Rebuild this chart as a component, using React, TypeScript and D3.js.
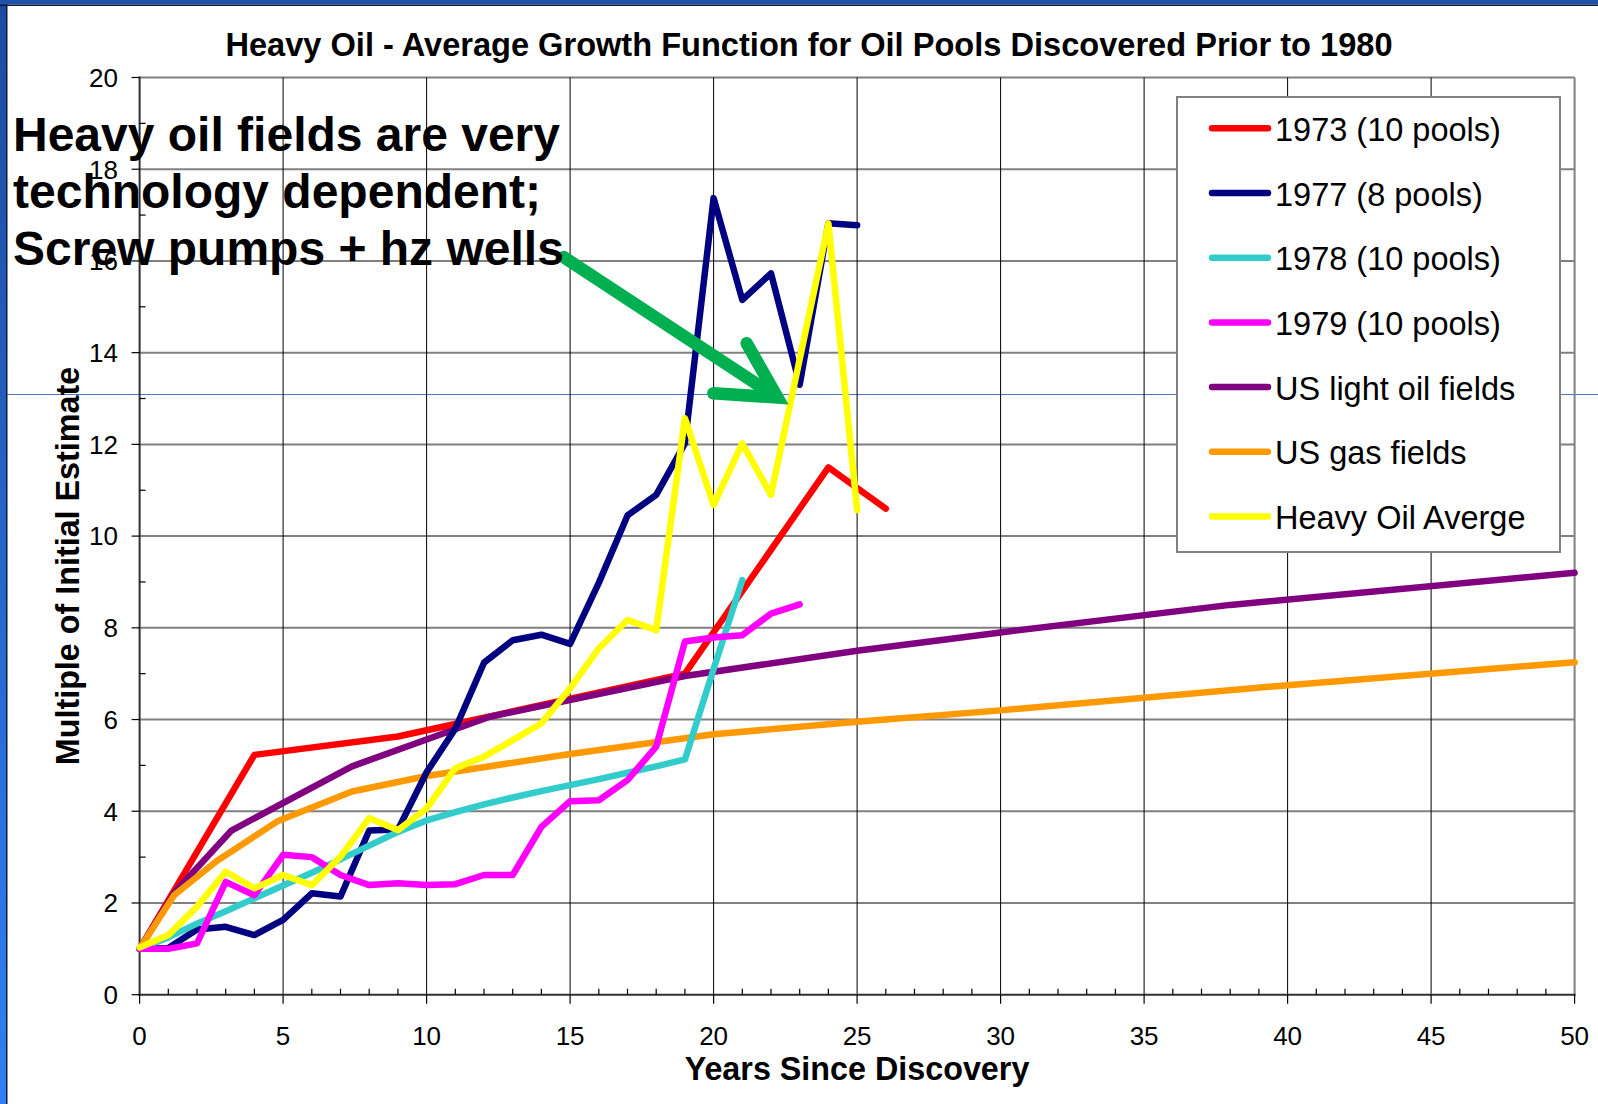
import React from 'react';
import * as d3 from 'd3';

const W = 1598;
const H = 1104;

// ---- data ----
const yearsA = [0, 1, 2, 3, 4, 5, 6, 7, 8, 9, 10, 11, 12, 13, 14, 15, 16, 17, 18, 19, 20, 21, 22, 23, 24, 25];
const yearsCyan = [0, 1, 2, 3, 4, 5, 6, 7, 8, 9, 10, 11, 12, 13, 14, 15, 16, 17, 18, 19, 20, 21];
const yearsMagenta = [0, 1, 2, 3, 4, 5, 6, 7, 8, 9, 10, 11, 12, 13, 14, 15, 16, 17, 18, 19, 20, 21, 22, 23];

const red1973X = [0, 4, 9, 12, 19, 24, 26];
const red1973Y = [1.0, 5.23, 5.63, 6.04, 7.0, 11.5, 10.6];

const navy1977 = [1.0, 1.02, 1.42, 1.48, 1.3, 1.63, 2.21, 2.14, 3.58, 3.6, 4.85, 5.8, 7.24, 7.73, 7.85, 7.65, 8.98, 10.45, 10.9, 12.02, 17.37, 15.15, 15.73, 13.3, 16.82, 16.78];
const cyan1978 = [1.0, 1.25, 1.55, 1.82, 2.1, 2.38, 2.66, 2.95, 3.25, 3.55, 3.8, 3.98, 4.15, 4.3, 4.44, 4.57, 4.7, 4.84, 4.98, 5.13, 7.1, 9.04];
const magenta1979 = [1.0, 1.0, 1.12, 2.46, 2.17, 3.05, 3.0, 2.61, 2.39, 2.43, 2.39, 2.41, 2.61, 2.61, 3.66, 4.22, 4.24, 4.68, 5.41, 7.7, 7.79, 7.84, 8.31, 8.51];

const usLightX = [0, 1.2, 3.2, 7.4, 12.2, 19, 25, 30, 38, 50];
const usLightY = [1.0, 2.22, 3.58, 4.98, 6.06, 6.95, 7.5, 7.9, 8.5, 9.2];

const usGasX = [0, 1.2, 2.7, 4.8, 7.4, 10, 15, 20, 25, 30, 40, 50];
const usGasY = [1.0, 2.17, 2.92, 3.78, 4.43, 4.77, 5.25, 5.68, 5.95, 6.2, 6.75, 7.25];

const heavyAvg = [1.03, 1.3, 1.92, 2.68, 2.32, 2.61, 2.39, 3.01, 3.85, 3.59, 4.06, 4.94, 5.19, 5.55, 5.92, 6.68, 7.55, 8.17, 7.95, 12.57, 10.68, 12.02, 10.9, 13.86, 16.82, 10.57];

const legendNames = ['1973 (10 pools)', '1977 (8 pools)', '1978 (10 pools)', '1979 (10 pools)', 'US light oil fields', 'US gas fields', 'Heavy Oil Averge'];
const legendColors = ['#ff0000', '#000080', '#33cccc', '#ff00ff', '#800080', '#ff9900', '#ffff00'];

const xTicks = [0, 5, 10, 15, 20, 25, 30, 35, 40, 45, 50];
const yTicks = [0, 2, 4, 6, 8, 10, 12, 14, 16, 18, 20];

const titleText = 'Heavy Oil - Average Growth Function for Oil Pools Discovered Prior to 1980';
const xTitle = 'Years Since Discovery';
const yTitle = 'Multiple of Initial Estimate';
const noteLines = ['Heavy oil fields are very', 'technology dependent;', 'Screw pumps + hz wells'];

const FONT = "'Liberation Sans', Arial, Helvetica, sans-serif";

function zip(xs: number[], ys: number[]): [number, number][] {
  return ys.map((v, i) => [xs[i], v]);
}

export default function App() {
  const x = d3.scaleLinear().domain([0, 50]).range([139.6, 1574.6]);
  const y = d3.scaleLinear().domain([0, 20]).range([994.7, 77.5]);
  const line = d3
    .line<[number, number]>()
    .x((d) => x(d[0]))
    .y((d) => y(d[1]));

  const series = [
    { key: 'red', color: legendColors[0], pts: zip(red1973X, red1973Y) },
    { key: 'purple', color: legendColors[4], pts: zip(usLightX, usLightY) },
    { key: 'orange', color: legendColors[5], pts: zip(usGasX, usGasY) },
    { key: 'navy', color: legendColors[1], pts: zip(yearsA, navy1977) },
    { key: 'cyan', color: legendColors[2], pts: zip(yearsCyan, cyan1978) },
    { key: 'magenta', color: legendColors[3], pts: zip(yearsMagenta, magenta1979) },
    { key: 'yellow', color: legendColors[6], pts: zip(yearsA, heavyAvg) },
  ];

  const minorX = d3.range(0, 51).filter((v) => v % 5 !== 0);
  const minorY = d3.range(1, 20, 2);

  const x0 = x(0);
  const x1 = x(50);
  const y0 = y(0);
  const y1 = y(20);

  // legend geometry
  const lg = { left: 1177, top: 97, right: 1560, bottom: 552, row0: 128.3, step: 64.7, lx0: 1212, lx1: 1268, tx: 1275 };

  return (
    <svg
      width={W}
      height={H}
      viewBox={`0 0 ${W} ${H}`}
      style={{ position: 'absolute', left: 0, top: 0, display: 'block' }}
      fontFamily={FONT}
    >
      <defs>
        <linearGradient id="leftStrip" x1="0" y1="0" x2="0" y2="1">
          <stop offset="0" stopColor="#1d4b9f" />
          <stop offset="1" stopColor="#2f80f3" />
        </linearGradient>
      </defs>
      <rect x={0} y={0} width={W} height={H} fill="#ffffff" />

      {/* stray slide guide line */}
      <line x1={7} x2={W} y1={394.5} y2={394.5} stroke="#4a78cc" strokeWidth={1.2} />

      {/* horizontal gridlines */}
      {yTicks.filter((t) => t > 0).map((t) => (
        <line key={'hg' + t} x1={x0} x2={x1} y1={y(t)} y2={y(t)} stroke="#808080" strokeWidth={2} />
      ))}
      {/* vertical gridlines */}
      {xTicks.filter((t) => t > 0 && t < 50).map((t) => (
        <line key={'vg' + t} x1={x(t)} x2={x(t)} y1={y1} y2={y0} stroke="#000000" strokeWidth={1} />
      ))}
      <line x1={x1} x2={x1} y1={y1} y2={y0} stroke="#808080" strokeWidth={2} />

      {/* axes */}
      <line x1={x0} x2={x0} y1={y1 - 1} y2={y0 + 1} stroke="#303030" strokeWidth={2} />
      <line x1={x0 - 1} x2={x1 + 1} y1={y0} y2={y0} stroke="#303030" strokeWidth={2} />
      {yTicks.map((t) => (
        <line key={'yt' + t} x1={x0 - 8} x2={x0} y1={y(t)} y2={y(t)} stroke="#000" strokeWidth={1.2} />
      ))}
      {minorY.map((t) => (
        <line key={'ym' + t} x1={x0} x2={x0 + 6} y1={y(t)} y2={y(t)} stroke="#000" strokeWidth={1.2} />
      ))}
      {xTicks.map((t) => (
        <line key={'xt' + t} x1={x(t)} x2={x(t)} y1={y0} y2={y0 + 9} stroke="#000" strokeWidth={1.2} />
      ))}
      {minorX.map((t) => (
        <line key={'xm' + t} x1={x(t)} x2={x(t)} y1={y0 - 6} y2={y0} stroke="#000" strokeWidth={1.2} />
      ))}

      {/* tick labels */}
      {yTicks.map((t) => (
        <text key={'yl' + t} x={118} y={y(t) + 9.3} fontSize={26} textAnchor="end" fill="#000">
          {t}
        </text>
      ))}
      {xTicks.map((t) => (
        <text key={'xl' + t} x={x(t)} y={1045} fontSize={26} textAnchor="middle" fill="#000">
          {t}
        </text>
      ))}

      {/* series */}
      {series.map((s) => (
        <path
          key={s.key}
          d={line(s.pts) || ''}
          fill="none"
          stroke={s.color}
          strokeWidth={6.5}
          strokeLinejoin="round"
          strokeLinecap="round"
        />
      ))}

      {/* legend */}
      <rect
        x={lg.left}
        y={lg.top}
        width={lg.right - lg.left}
        height={lg.bottom - lg.top}
        fill="#ffffff"
        stroke="#808080"
        strokeWidth={2}
      />
      {legendNames.map((n, i) => {
        const cy = lg.row0 + i * lg.step;
        return (
          <g key={'lg' + i}>
            <line x1={lg.lx0} x2={lg.lx1} y1={cy} y2={cy} stroke={legendColors[i]} strokeWidth={6.5} strokeLinecap="round" />
            <text x={lg.tx} y={cy + 12.5} fontSize={32.5} fill="#000">
              {n}
            </text>
          </g>
        );
      })}

      {/* titles */}
      <text x={809} y={56} fontSize={32.6} fontWeight="bold" textAnchor="middle" fill="#000">
        {titleText}
      </text>
      <text x={857} y={1080} fontSize={32.3} fontWeight="bold" textAnchor="middle" fill="#000">
        {xTitle}
      </text>
      <text transform="translate(79,566) rotate(-90)" fontSize={32.3} fontWeight="bold" textAnchor="middle" fill="#000">
        {yTitle}
      </text>

      {/* green arrow */}
      <line x1={563.5} y1={257} x2={775} y2={396} stroke="#00b050" strokeWidth={12.5} strokeLinecap="round" />
      <path
        d="M746.7,343.3 L777.5,397.5 L713.3,393.3"
        fill="none"
        stroke="#00b050"
        strokeWidth={12.5}
        strokeLinecap="round"
        strokeLinejoin="miter"
        strokeMiterlimit={10}
      />

      {/* annotation */}
      {noteLines.map((l, i) => (
        <text key={'n' + i} x={13} y={151 + i * 57} fontSize={48} fontWeight="bold" fill="#000">
          {l}
        </text>
      ))}

      {/* slide frame */}
      <rect x={0} y={0} width={6} height={H} fill="url(#leftStrip)" />
      <rect x={6} y={0} width={1.5} height={H} fill="#0d1c3a" />
      <rect x={0} y={0} width={W} height={4.5} fill="#2152aa" />
      <rect x={0} y={4.5} width={W} height={1.5} fill="#0d1c3a" />
    </svg>
  );
}
